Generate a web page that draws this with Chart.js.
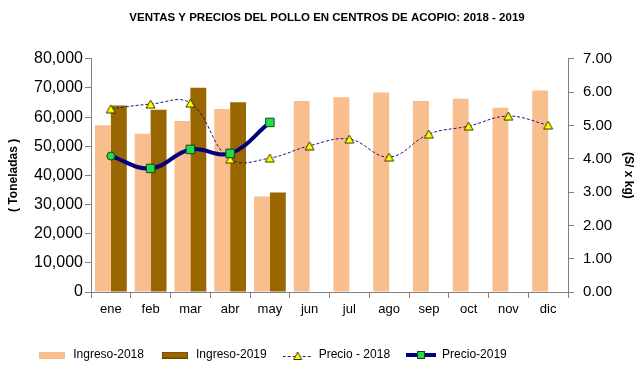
<!DOCTYPE html>
<html>
<head>
<meta charset="utf-8">
<script src="https://cdn.jsdelivr.net/npm/chart.js@4.4.1/dist/chart.umd.min.js"></script>
<style>
  html, body { margin: 0; padding: 0; background: #fff; }
  #wrap { width: 640px; height: 378px; position: relative; }
</style>
</head>
<body>
<div id="wrap"><canvas id="c" width="640" height="378"></canvas></div>
<script>
const months = ['ene','feb','mar','abr','may','jun','jul','ago','sep','oct','nov','dic'];
const ingreso2018 = [57200, 54300, 58700, 62800, 32800, 65500, 66800, 68400, 65500, 66300, 63200, 69100];
const ingreso2019 = [64000, 62500, 70100, 65100, 34100, null, null, null, null, null, null, null];
const precio2018 = [5.50, 5.64, 5.67, 3.99, 4.02, 4.39, 4.59, 4.05, 4.74, 4.98, 5.28, 5.01];
const precio2019 = [4.08, 3.71, 4.28, 4.16, 5.09, null, null, null, null, null, null, null];
const leftTicks = [0, 10000, 20000, 30000, 40000, 50000, 60000, 70000, 80000];
const rightTicks = [0, 1, 2, 3, 4, 5, 6, 7];

const FONT = "'Liberation Sans', Arial, sans-serif";

function mk(w, h, draw) {
  const c = document.createElement('canvas');
  c.width = w; c.height = h;
  draw(c.getContext('2d'));
  return c;
}
const lg2018 = mk(26, 7, g => { g.fillStyle = '#F9BE8E'; g.fillRect(0, 0, 26, 7); });
const lg2019 = mk(26, 7, g => { g.fillStyle = '#996600'; g.fillRect(0, 0, 26, 7); g.strokeStyle = '#6b4700'; g.strokeRect(0.5, 0.5, 25, 6); });
const lgP18 = mk(30, 12, g => {
  g.strokeStyle = '#1a1a80'; g.lineWidth = 1; g.setLineDash([3, 2]);
  g.beginPath(); g.moveTo(0, 7.5); g.lineTo(30, 7.5); g.stroke();
  g.setLineDash([]);
  g.fillStyle = '#FFFF00'; g.strokeStyle = '#333300';
  g.beginPath(); g.moveTo(15, 3); g.lineTo(19, 10.5); g.lineTo(11, 10.5); g.closePath(); g.fill(); g.stroke();
});
const lgP19 = mk(30, 12, g => {
  g.strokeStyle = '#000080'; g.lineWidth = 4;
  g.beginPath(); g.moveTo(0, 6); g.lineTo(30, 6); g.stroke();
  g.fillStyle = '#22DD44'; g.strokeStyle = '#114422'; g.lineWidth = 1;
  g.fillRect(11, 2, 8, 8); g.strokeRect(11.5, 2.5, 7, 7);
});

const tri = mk(11, 10, g => {
  g.fillStyle = '#FFFF00'; g.strokeStyle = '#333300'; g.lineWidth = 1;
  g.beginPath(); g.moveTo(5.5, 1); g.lineTo(10, 9); g.lineTo(1, 9); g.closePath(); g.fill(); g.stroke();
});

const shiftBoxes = {
  id: 'shiftBoxes',
  afterLayout(chart) {
    const lg = chart.legend;
    if (lg) { lg.left -= 48; lg.right -= 48; }
    const tb = chart.titleBlock;
    if (tb) { tb.left += 7; tb.right += 7; }
  }
};

new Chart(document.getElementById('c'), {
  data: {
    labels: months,
    datasets: [
      { type: 'bar', label: 'Ingreso-2018', data: ingreso2018, backgroundColor: '#F9BE8E', yAxisID: 'y', order: 2,
        categoryPercentage: 0.8, barPercentage: 1.0 },
      { type: 'bar', label: 'Ingreso-2019', data: ingreso2019, backgroundColor: '#996600', yAxisID: 'y', order: 2,
        categoryPercentage: 0.8, barPercentage: 1.0 },
      { type: 'line', label: 'Precio - 2018', data: precio2018, yAxisID: 'y1', order: 1,
        borderColor: '#1a1a80', borderWidth: 1, borderDash: [3, 2], tension: 0.4,
        pointStyle: tri, pointRadius: 5, fill: false },
      { type: 'line', label: 'Precio-2019', data: precio2019, yAxisID: 'y1', order: 0,
        borderColor: '#000080', borderWidth: 4, tension: 0.4,
        pointStyle: ['circle','rect','rect','rect','rect'], pointRadius: [4, 6, 6, 6, 6],
        pointBackgroundColor: '#22DD44', pointBorderColor: '#114422', pointBorderWidth: 1, fill: false }
    ]
  },
  options: {
    responsive: false,
    animation: false,
    layout: { padding: { left: 0, right: 0, top: 0, bottom: 7 } },
    plugins: {
      tooltip: { enabled: false },
      title: {
        display: true,
        text: 'VENTAS Y PRECIOS DEL POLLO EN CENTROS DE ACOPIO: 2018 - 2019',
        color: '#000',
        font: { family: FONT, size: 11.5, weight: 'bold' },
        padding: { top: 11, bottom: 34 }
      },
      legend: {
        position: 'bottom',
        labels: {
          usePointStyle: true,
          pointStyleWidth: 30,
          color: '#000',
          font: { family: FONT, size: 12 },
          padding: 16,
          generateLabels: (chart) => chart.data.datasets.map((ds, i) => ({
            text: ds.label,
            pointStyle: [lg2018, lg2019, lgP18, lgP19][i],
            datasetIndex: i,
            fillStyle: 'rgba(0,0,0,0)', strokeStyle: 'rgba(0,0,0,0)', lineWidth: 0,
            fontColor: '#000', hidden: false
          }))
        }
      }
    },
    scales: {
      x: {
        offset: true,
        grid: { offset: true, drawOnChartArea: false, drawTicks: true, tickLength: 6, color: '#808080' },
        border: { color: '#808080', width: 1 },
        ticks: { color: '#000', font: { family: FONT, size: 13 }, padding: 4, maxRotation: 0 },
        afterFit: s => { s.height = 41; }
      },
      y: {
        position: 'left',
        min: 0, max: 80000,
        afterBuildTicks: s => { s.ticks = leftTicks.map(v => ({ value: v })); },
        grid: { drawOnChartArea: false, drawTicks: true, tickLength: 6, color: '#808080' },
        border: { color: '#808080', width: 1 },
        ticks: { color: '#000', font: { family: FONT, size: 16 }, padding: 2,
          callback: v => v.toLocaleString('en-US') },
        title: { display: true, text: '( Toneladas )', color: '#000',
          font: { family: FONT, size: 12, weight: 'bold' }, padding: { top: 6, bottom: 0 } },
        afterFit: s => { s.width = 91; }
      },
      y1: {
        position: 'right',
        min: 0, max: 7,
        afterBuildTicks: s => { s.ticks = rightTicks.map(v => ({ value: v })); },
        grid: { drawOnChartArea: false, drawTicks: true, tickLength: 6, color: '#808080' },
        border: { color: '#808080', width: 1 },
        ticks: { color: '#000', font: { family: FONT, size: 15 }, padding: 9,
          callback: v => Number(v).toFixed(2) },
        title: { display: true, text: '(S/ x kg)', color: '#000',
          font: { family: FONT, size: 12, weight: 'bold' }, padding: { top: 4, bottom: 0 } },
        afterFit: s => { s.width = 72; }
      }
    }
  },
  plugins: [shiftBoxes]
});
</script>
</body>
</html>
